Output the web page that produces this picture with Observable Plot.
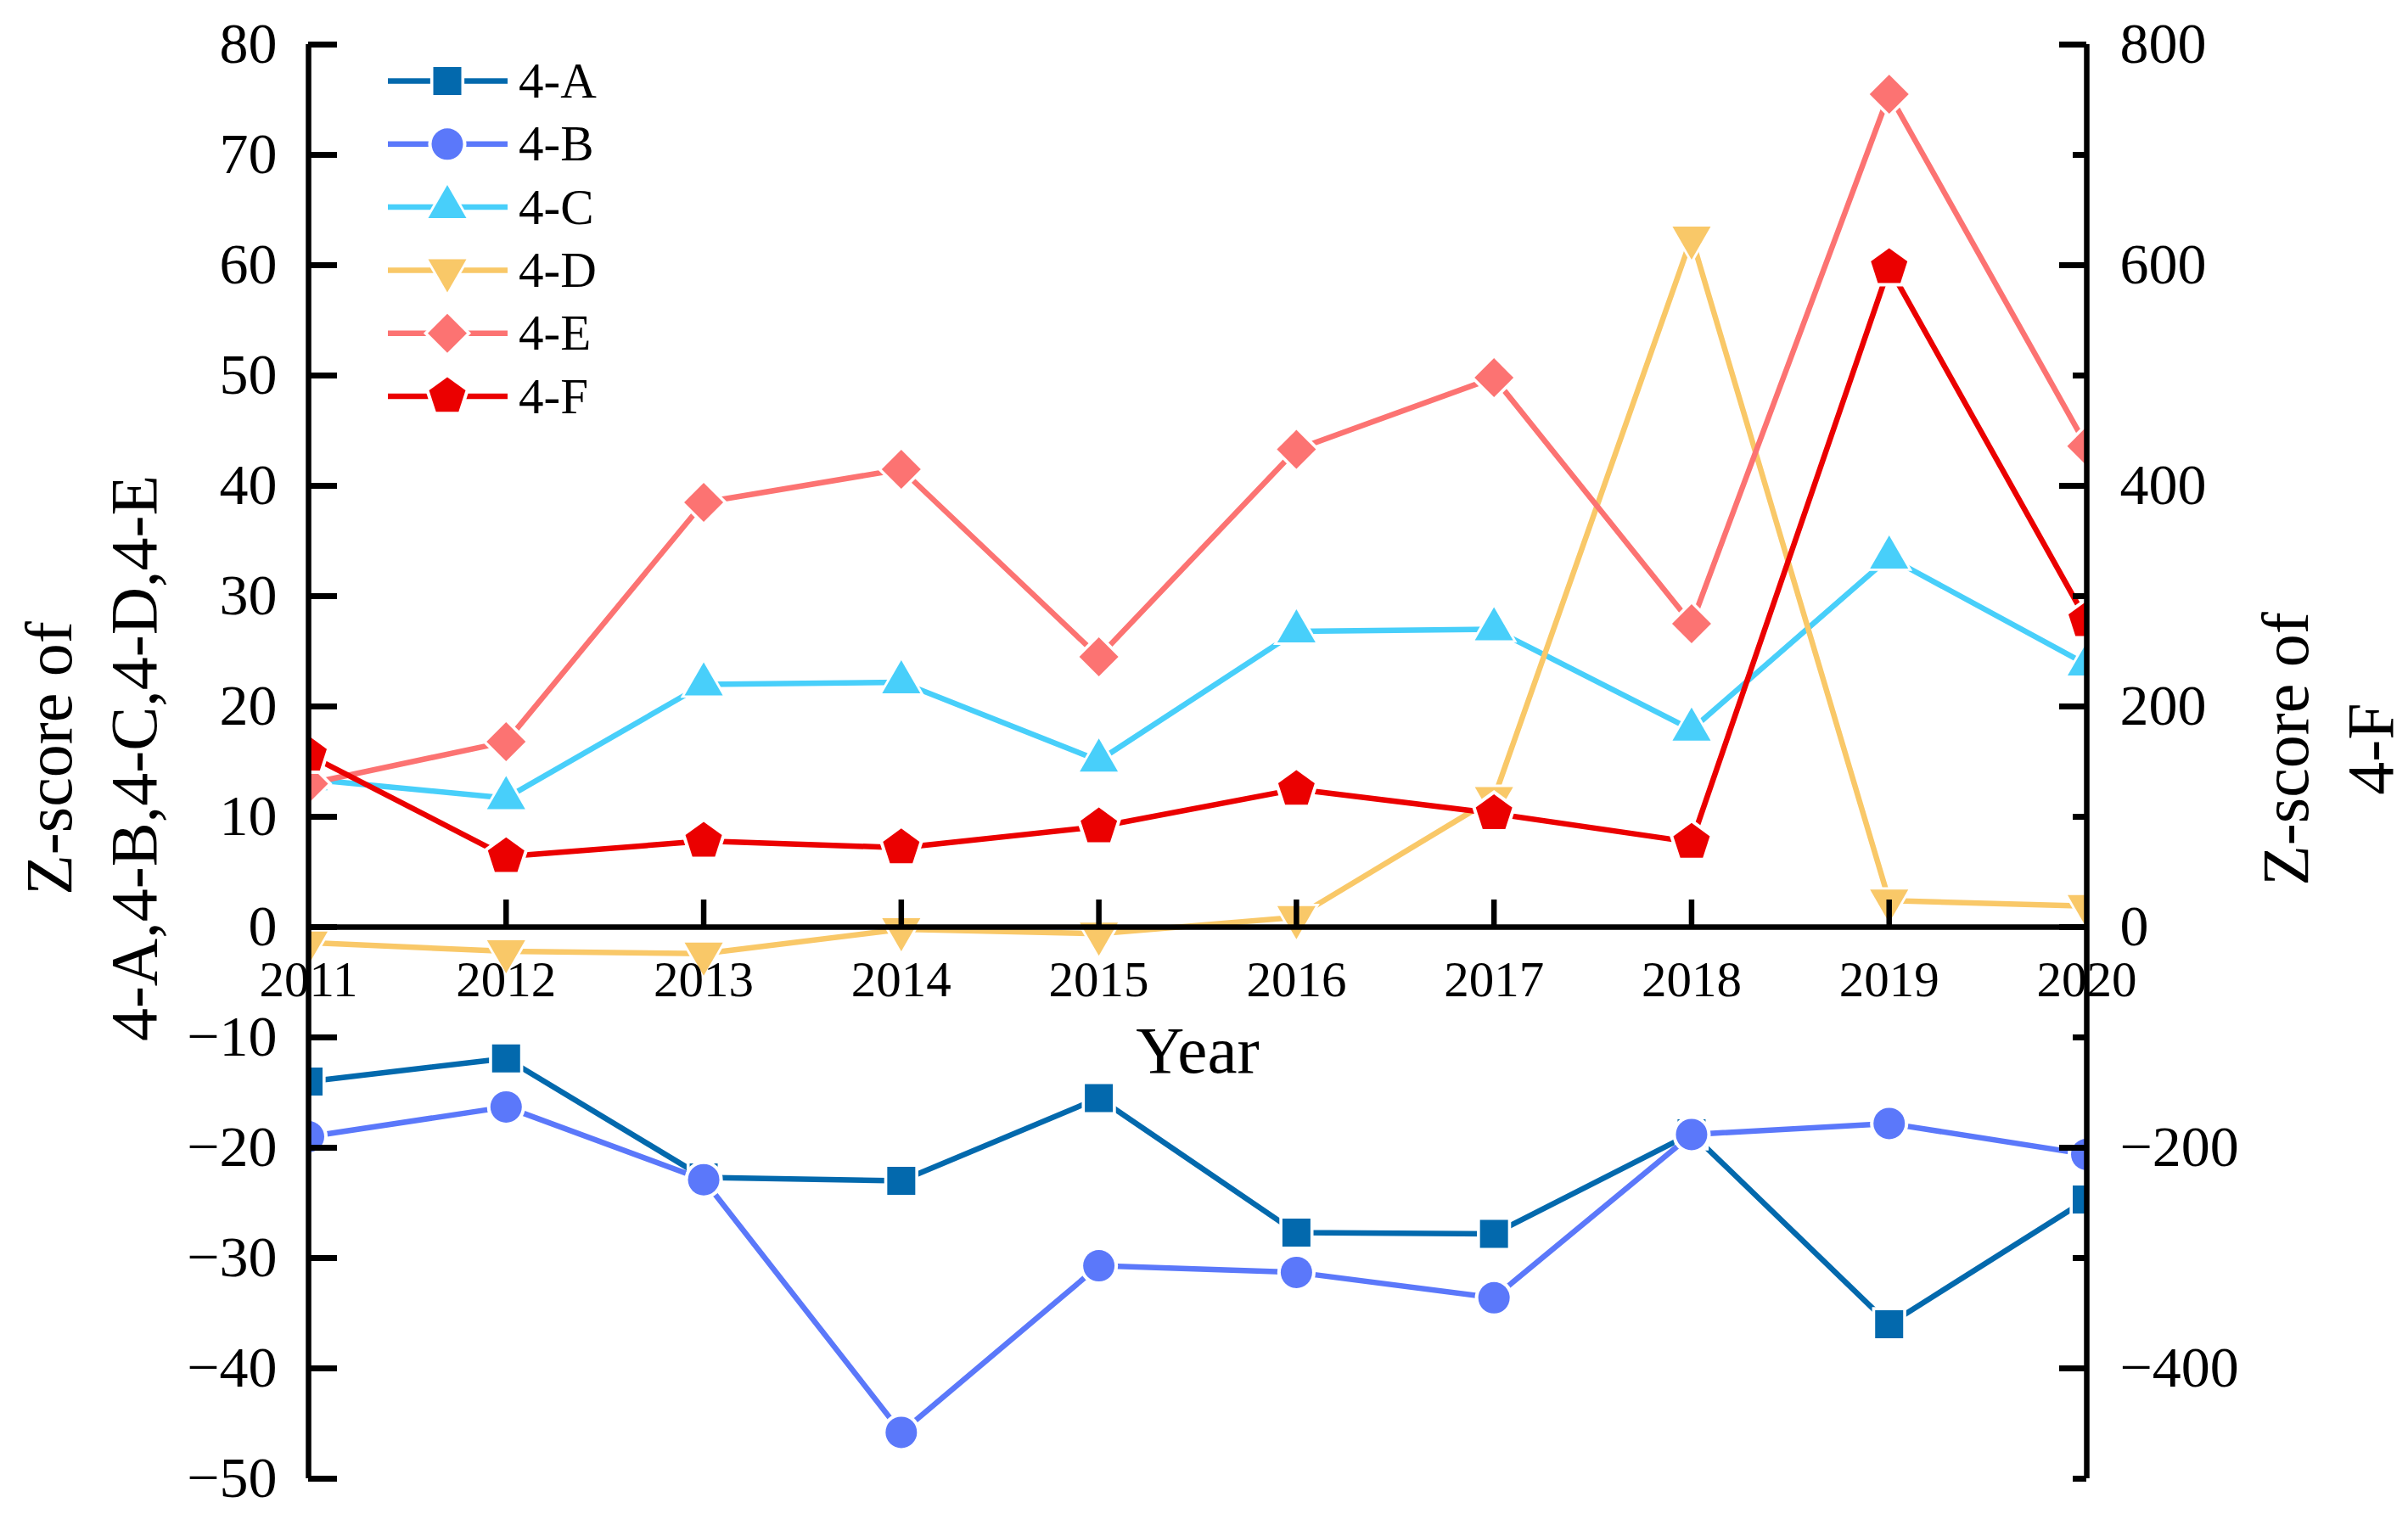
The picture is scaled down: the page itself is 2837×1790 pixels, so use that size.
<!DOCTYPE html>
<html>
<head>
<meta charset="utf-8">
<script src="https://cdn.jsdelivr.net/npm/d3@7"></script>
<script src="https://cdn.jsdelivr.net/npm/@observablehq/plot@0.6"></script>
<style>
  html, body { margin: 0; padding: 0; background: #fff; }
  #chart { position: relative; width: 2837px; height: 1790px; }
</style>
</head>
<body>
<div id="chart"></div>
<script>
// ---------------- data ----------------
const years = [2011, 2012, 2013, 2014, 2015, 2016, 2017, 2018, 2019, 2020];
const seriesNames = ["4-A", "4-B", "4-C", "4-D", "4-E", "4-F"];
const valuesA = [-14.0, -11.9, -22.7, -23.0, -15.5, -27.7, -27.8, -18.7, -36.0, -24.7];
const valuesB = [-19.0, -16.3, -22.9, -45.8, -30.7, -31.3, -33.6, -18.8, -17.8, -20.6];
const valuesC = [13.4, 11.7, 22.0, 22.2, 15.1, 26.8, 27.0, 17.9, 33.5, 23.8];
const valuesD = [-1.4, -2.2, -2.4, -0.2, -0.6, 0.9, 11.7, 62.5, 2.4, 1.9];
const valuesE = [13.0, 16.8, 38.5, 41.5, 24.5, 43.3, 49.8, 27.5, 75.5, 43.6];
const valuesF = [156, 64, 78, 72, 91, 125, 103, 77, 598, 278]; // right axis
const leftDomain = [-50, 80];
const rightDomain = [-500, 800];
const leftTicks = [-50, -40, -30, -20, -10, 0, 10, 20, 30, 40, 50, 60, 70, 80];
const rightMajorTicks = [-400, -200, 0, 200, 400, 600, 800];
const rightMinorTicks = [-500, -300, -100, 100, 300, 500, 700];
const yearTicks = [2012, 2013, 2014, 2015, 2016, 2017, 2018, 2019];
const xLabel = "Year";
const leftTitle = "Z-score of\n4-A,4-B,4-C,4-D,4-E";
const rightTitle = "Z-score of\n4-F";

// ---------------- styling ----------------
const W = 2837, H = 1790;
const mL = 363, mR = 379, mT = 52, mB = 48;
const frameW = W - mL - mR;
const ratio = (rightDomain[1] - rightDomain[0]) / (leftDomain[1] - leftDomain[0]);
const colors = ["#0369ad", "#5b78fa", "#48cffa", "#f9c868", "#fc7372", "#eb0000"];
const lineW = 6.5;

const k = size => Math.sqrt(size / Math.PI);
const SYM = {
  square: {draw(c, s) { const r = k(s) * 16.5; c.rect(-r, -r, 2 * r, 2 * r); }},
  circle: {draw(c, s) { const r = k(s) * 18.5; c.moveTo(r, 0); c.arc(0, 0, r, 0, 2 * Math.PI); }},
  triUp: {draw(c, s) { const a = k(s) * 45, h = a * Math.sqrt(3) / 2;
    c.moveTo(0, -2 * h / 3); c.lineTo(a / 2, h / 3); c.lineTo(-a / 2, h / 3); c.closePath(); }},
  triDown: {draw(c, s) { const a = k(s) * 45, h = a * Math.sqrt(3) / 2;
    c.moveTo(0, 2 * h / 3); c.lineTo(a / 2, -h / 3); c.lineTo(-a / 2, -h / 3); c.closePath(); }},
  diamond: {draw(c, s) { const r = k(s) * 23;
    c.moveTo(0, -r); c.lineTo(r, 0); c.lineTo(0, r); c.lineTo(-r, 0); c.closePath(); }},
  pentagon: {draw(c, s) { const R = k(s) * 22.6;
    for (let i = 0; i < 5; i++) { const a = -Math.PI / 2 + i * 2 * Math.PI / 5;
      const px = R * Math.cos(a), py = R * Math.sin(a); if (i === 0) c.moveTo(px, py); else c.lineTo(px, py); }
    c.closePath(); }}
};
const symbols = [SYM.square, SYM.circle, SYM.triUp, SYM.triDown, SYM.diamond, SYM.pentagon];

const allValues = [valuesA, valuesB, valuesC, valuesD, valuesE, valuesF];
const series = seriesNames.map((name, i) => ({
  name, color: colors[i], symbol: symbols[i], right: i === 5,
  rows: years.map((year, j) => ({year, value: allValues[i][j]}))
}));

const marks = [];
for (const s of series) {
  const yAcc = s.right ? (d => d.value / ratio) : (d => d.value);
  marks.push(Plot.line(s.rows, {x: "year", y: yAcc, stroke: s.color, strokeWidth: lineW, clip: true}));
  marks.push(Plot.dot(s.rows, {x: "year", y: yAcc, symbol: s.symbol, r: 1.22, fill: "white", stroke: "none", clip: true}));
  marks.push(Plot.dot(s.rows, {x: "year", y: yAcc, symbol: s.symbol, r: 1, fill: s.color, stroke: "none", clip: true}));
}

const minus = v => (v < 0 ? "\u2212" + Math.abs(v) : String(v));

// axes
marks.push(
  Plot.ruleY([0], {stroke: "black", strokeWidth: 6.5}),
  Plot.ruleX([years[0], years[years.length - 1]], {stroke: "black", strokeWidth: 6.5}),
  Plot.ruleY(leftTicks, {y: d => d, insetRight: frameW - 34, stroke: "black", strokeWidth: 7}),
  Plot.ruleY(rightMajorTicks, {y: d => d / ratio, insetLeft: frameW - 32, stroke: "black", strokeWidth: 7}),
  Plot.ruleY(rightMinorTicks, {y: d => d / ratio, insetLeft: frameW - 16, stroke: "black", strokeWidth: 7}),
  Plot.ruleX(yearTicks, {x: d => d, y1: () => 0, y2: () => 0, insetTop: -32, stroke: "black", strokeWidth: 6.5}),
  Plot.axisY({anchor: "left", ticks: leftTicks, tickFormat: minus, tickSize: 0, tickPadding: 37,
    fontSize: 68, label: null, fill: "black"}),
  Plot.axisY({anchor: "right", ticks: rightMajorTicks.map(d => d / ratio), tickFormat: d => minus(Math.round(d * ratio)),
    tickSize: 0, tickPadding: 39, fontSize: 68, label: null, fill: "black"}),
  Plot.text(years, {x: d => d, y: () => 0, text: d => String(d), dy: 81, lineAnchor: "bottom",
    fontSize: 59, fill: "black"}),
  Plot.text([xLabel], {y: () => 0, text: d => d, frameAnchor: "middle", dy: 171, lineAnchor: "bottom",
    fontSize: 79, fill: "black"}),
  Plot.text([leftTitle], {text: d => d, frameAnchor: "left", rotate: -90, dx: -180, dy: -4,
    lineAnchor: "bottom", lineHeight: 1.282, textAnchor: "middle", fontSize: 78, fill: "black"}),
  Plot.text([rightTitle], {text: d => d, frameAnchor: "right", rotate: -90, dx: 360, dy: -15,
    lineAnchor: "bottom", lineHeight: 1.282, textAnchor: "middle", fontSize: 78, fill: "black"})
);

const chart = Plot.plot({
  width: W, height: H,
  marginLeft: mL, marginRight: mR, marginTop: mT, marginBottom: mB,
  style: {fontFamily: "'Liberation Serif', 'Times New Roman', serif", background: "white", color: "black", overflow: "visible"},
  x: {domain: [years[0], years[years.length - 1]], axis: null},
  y: {domain: leftDomain},
  marks
});

// legend inside plot area
const svg = d3.select(chart);
const lg = svg.append("g");
const legendTop = 95.5, legendStep = 74.3;
const pathOf = (sym, r) => { const p = d3.path(); sym.draw(p, r * r * Math.PI); return p.toString(); };
series.forEach((s, i) => {
  const cy = legendTop + i * legendStep;
  lg.append("line").attr("x1", 457).attr("x2", 598).attr("y1", cy).attr("y2", cy)
    .attr("stroke", s.color).attr("stroke-width", lineW);
  lg.append("path").attr("transform", `translate(527,${cy})`).attr("d", pathOf(s.symbol, 1.22)).attr("fill", "white");
  lg.append("path").attr("transform", `translate(527,${cy})`).attr("d", pathOf(s.symbol, 1)).attr("fill", s.color);
  lg.append("text").attr("x", 611).attr("y", cy + 19.5).attr("font-size", 59).attr("fill", "black")
    .attr("text-anchor", "start")
    .attr("font-family", "'Liberation Serif', 'Times New Roman', serif").text(s.name);
});

document.getElementById("chart").appendChild(chart);
</script>
</body>
</html>
